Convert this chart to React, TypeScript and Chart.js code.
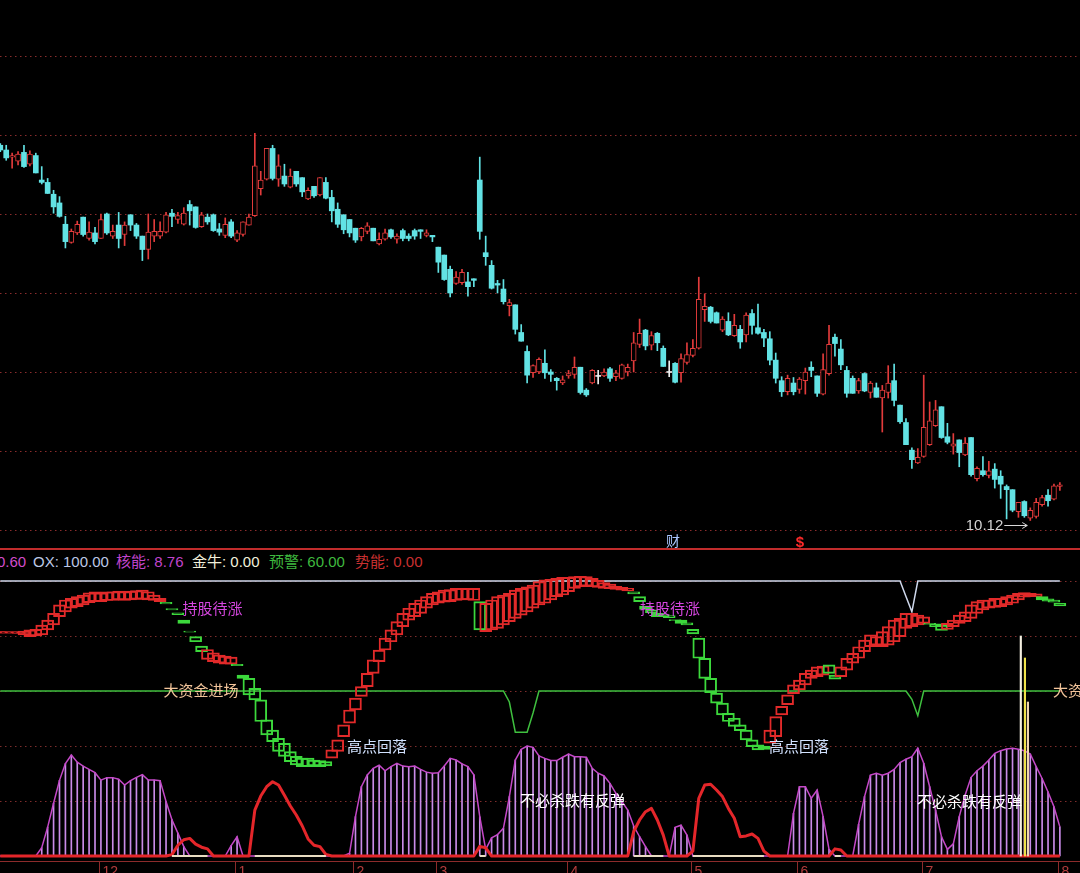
import React, { useEffect, useRef } from "react";
import { Chart, registerables } from "chart.js";
Chart.register(...registerables);

// ---------- price panel (daily candles) ----------
const openP = [
  14.87,14.81,14.72,14.67,14.78,14.63,14.74,14.43,14.40,14.25,
  14.14,13.87,13.64,13.76,13.96,13.69,13.76,13.69,14.00,13.72,
  13.86,13.74,13.99,13.86,13.72,13.55,13.72,13.72,13.77,14.01,
  13.93,13.87,14.12,14.09,13.84,13.96,13.99,13.81,13.73,13.90,
  13.67,13.74,13.86,13.98,14.32,14.44,14.83,14.44,14.48,14.34,
  14.54,14.46,14.19,14.35,14.24,14.40,14.21,14.06,13.99,13.93,
  13.82,13.71,13.78,13.82,13.62,13.68,13.80,13.68,13.79,13.72,
  13.79,13.80,13.73,13.73,13.58,13.48,13.30,13.12,13.13,13.14,
  13.18,14.43,13.51,13.35,13.12,13.05,12.84,12.85,12.50,12.26,
  11.99,12.00,12.11,12.00,11.92,11.86,11.95,11.97,12.06,11.77,
  11.86,11.95,11.95,12.04,11.94,11.92,12.00,12.14,12.35,12.53,
  12.34,12.49,12.30,12.00,12.11,11.99,12.12,12.21,12.30,12.79,
  12.82,12.75,12.53,12.64,12.46,12.54,12.47,12.74,12.56,12.50,
  12.42,12.15,11.89,11.75,11.86,11.78,11.89,12.06,11.95,11.72,
  11.98,12.44,12.29,12.02,11.92,11.76,11.98,11.74,11.80,11.67,
  11.74,11.89,11.58,11.36,11.01,10.85,10.93,11.08,11.32,11.56,
  11.18,11.06,11.14,10.95,11.17,10.65,10.75,10.69,10.77,10.68,
  10.55,10.51,10.23,10.36,10.15,10.17,10.32,10.44,10.39,10.55,
];
const highP = [
  14.89,14.87,14.77,14.79,14.87,14.80,14.77,14.60,14.45,14.30,
  14.22,13.97,13.81,13.91,13.96,13.90,13.83,14.00,14.01,13.86,
  14.02,13.90,13.99,13.88,13.72,14.00,13.93,13.90,14.02,14.06,
  14.02,14.08,14.17,14.09,14.02,14.00,14.00,13.88,13.95,13.93,
  13.79,13.90,14.00,15.02,14.54,14.83,14.87,14.75,14.63,14.57,
  14.54,14.46,14.33,14.35,14.46,14.46,14.30,14.14,13.99,13.93,
  13.82,13.83,13.89,13.82,13.76,13.81,13.81,13.75,13.81,13.75,
  13.81,13.80,13.80,13.73,13.58,13.48,13.34,13.27,13.30,13.26,
  13.18,14.72,13.72,13.41,13.16,13.17,12.92,12.85,12.60,12.33,
  12.09,12.18,12.28,12.03,11.93,11.95,12.02,12.19,12.06,11.79,
  12.03,12.02,12.04,12.06,12.02,12.10,12.10,12.50,12.67,12.54,
  12.51,12.50,12.33,12.14,12.12,12.23,12.37,12.41,13.20,12.99,
  12.83,12.76,12.70,12.75,12.73,12.59,12.75,12.79,12.86,12.54,
  12.51,12.24,11.94,11.96,11.93,11.93,12.05,12.13,11.95,12.23,
  12.59,12.48,12.41,12.07,11.95,11.92,11.99,11.88,11.86,11.83,
  12.08,12.10,11.58,11.41,11.04,11.03,11.96,11.62,11.64,11.56,
  11.35,11.22,11.14,11.17,11.17,10.80,10.93,10.87,10.84,10.75,
  10.57,10.51,10.35,10.37,10.28,10.40,10.44,10.51,10.58,10.60,
];
const lowP = [
  14.79,14.68,14.58,14.62,14.59,14.61,14.52,14.38,14.26,14.01,
  13.96,13.57,13.63,13.74,13.72,13.67,13.62,13.69,13.74,13.69,
  13.57,13.60,13.79,13.69,13.41,13.43,13.65,13.69,13.76,13.84,
  13.88,13.86,13.86,13.82,13.83,13.87,13.78,13.73,13.70,13.70,
  13.65,13.72,13.86,13.97,14.24,14.43,14.43,14.35,14.35,14.33,
  14.35,14.22,14.18,14.21,14.23,14.19,13.90,13.83,13.75,13.71,
  13.64,13.66,13.75,13.66,13.61,13.67,13.69,13.63,13.66,13.66,
  13.68,13.69,13.71,13.65,13.26,13.16,12.95,13.11,13.11,12.96,
  13.08,13.68,13.35,13.05,13.00,12.86,12.71,12.48,12.39,11.86,
  11.93,11.98,11.92,11.88,11.77,11.84,11.92,11.92,11.72,11.69,
  11.85,11.85,11.94,11.88,11.89,11.91,11.95,12.00,12.31,12.28,
  12.28,12.27,12.07,11.94,11.86,11.87,12.10,12.19,12.29,12.64,
  12.62,12.62,12.51,12.46,12.45,12.30,12.38,12.48,12.48,12.32,
  12.09,11.86,11.69,11.71,11.71,11.73,11.72,11.94,11.69,11.71,
  11.96,12.20,12.03,11.68,11.73,11.73,11.75,11.67,11.68,11.24,
  11.67,11.57,11.35,11.08,10.78,10.84,10.92,11.07,11.31,11.16,
  11.09,10.96,10.80,10.94,10.68,10.62,10.68,10.66,10.53,10.40,
  10.14,10.23,10.16,10.16,10.12,10.15,10.30,10.30,10.38,10.50,
];
const closeP = [
  14.81,14.71,14.74,14.76,14.60,14.76,14.52,14.40,14.26,14.09,
  13.97,13.65,13.78,13.87,13.74,13.77,13.65,13.93,13.76,13.78,
  13.69,13.86,13.86,13.72,13.55,13.77,13.78,13.78,13.99,13.97,
  13.98,14.01,14.04,13.83,13.99,13.90,13.79,13.77,13.87,13.72,
  13.76,13.90,13.96,14.61,14.43,14.83,14.45,14.61,14.38,14.48,
  14.38,14.28,14.30,14.23,14.46,14.20,14.04,13.87,13.80,13.76,
  13.67,13.82,13.85,13.66,13.68,13.76,13.71,13.72,13.69,13.69,
  13.72,13.78,13.76,13.71,13.39,13.17,13.00,13.20,13.26,13.08,
  13.16,13.78,13.46,13.06,13.10,12.89,12.88,12.54,12.39,11.96,
  12.08,12.16,11.99,11.97,11.89,11.90,11.98,12.06,11.74,11.71,
  12.02,11.95,12.00,11.92,11.99,12.09,12.06,12.37,12.49,12.33,
  12.46,12.37,12.07,12.00,11.87,12.17,12.22,12.30,12.92,12.83,
  12.64,12.62,12.67,12.47,12.59,12.38,12.72,12.59,12.49,12.43,
  12.15,11.92,11.75,11.92,11.75,11.91,12.00,12.02,11.73,12.03,
  12.35,12.36,12.09,11.73,11.73,11.89,11.76,11.86,11.68,11.77,
  11.86,11.64,11.37,11.08,10.89,10.92,11.30,11.38,11.52,11.17,
  11.11,11.09,10.98,11.10,10.70,10.78,10.70,10.75,10.64,10.58,
  10.51,10.25,10.35,10.18,10.25,10.35,10.41,10.37,10.56,10.57,
];
const priceGrid = [10, 11, 12, 13, 14, 15, 16];
const lowMark = { idx: 174, price: 10.12, text: "10.12" };
const priceNotes = [
  { text: "财", idx: 113.64, value: 9.86, color: "#a9c6ff", font: '14px "Noto Sans CJK SC"', align: "center" },
  { text: "$", idx: 135.1, value: 9.84, color: "#ff2a2a", font: 'bold 15px "Liberation Sans"', align: "center" },
];

// ---------- indicator panel ----------
const boxOpen = [
  81.0,81.0,81.0,80.9,80.4,79.8,80.0,80.4,82.2,84.0,
  87.0,88.8,90.1,90.7,91.3,92.1,92.5,92.5,92.9,92.9,
  93.1,92.9,93.1,93.3,93.3,93.1,92.9,92.5,92.2,90.0,
  88.4,85.8,81.8,79.8,76.3,71.5,70.7,70.1,69.8,69.8,
  69.7,65.8,64.6,61.0,56.8,49.5,45.8,42.8,41.0,38.0,
  36.2,35.6,35.6,34.9,34.7,34.3,35.6,38.0,43.4,48.3,
  53.1,58.0,61.6,66.4,70.7,74.9,77.9,80.4,83.4,85.8,
  87.0,88.2,90.1,91.3,91.9,92.3,92.5,92.9,93.1,93.1,
  92.9,92.5,81.6,82.2,82.8,84.0,85.2,86.4,87.6,88.8,
  90.1,91.3,91.9,93.1,94.3,94.9,96.1,97.3,97.9,98.1,
  97.9,97.7,97.3,97.2,96.9,96.7,96.4,96.1,94.3,90.9,
  89.5,88.2,87.8,87.4,86.0,85.8,84.8,82.4,79.2,71.9,
  64.6,59.2,55.6,51.9,50.1,47.7,45.8,42.2,40.4,40.0,
  41.0,43.4,51.3,55.0,59.0,60.4,62.2,64.6,65.2,65.8,
  69.5,65.8,65.2,67.6,70.1,71.9,74.3,76.1,76.7,76.1,
  76.7,77.9,79.8,82.8,83.4,84.0,84.6,84.6,84.4,84.0,
  82.4,83.4,84.6,85.2,86.4,88.2,89.5,90.1,90.4,90.7,
  91.3,91.9,93.1,94.1,94.3,94.3,94.3,93.5,93.1,91.9,
];
const boxClose = [
  81.6,81.6,81.5,81.6,81.8,82.2,82.4,84.0,85.8,88.2,
  91.3,93.1,93.7,94.3,94.9,95.7,96.1,95.7,96.1,96.1,
  96.3,96.1,96.3,96.5,96.7,96.1,94.9,93.7,91.7,89.5,
  87.8,84.6,81.4,77.9,74.3,75.1,73.9,73.1,72.7,72.3,
  69.2,64.6,58.6,56.8,48.9,44.0,41.6,38.0,36.2,34.3,
  33.1,32.5,32.5,32.8,32.5,32.8,38.6,42.2,47.7,53.1,
  57.4,61.6,66.4,71.3,74.9,79.2,82.2,85.2,88.2,90.1,
  91.9,93.1,94.3,95.5,96.1,96.7,96.9,97.3,97.3,97.3,
  97.3,82.2,91.9,93.1,94.3,94.9,95.5,96.7,97.3,97.9,
  98.5,99.8,100.4,100.6,101.0,101.3,101.3,101.6,101.8,101.6,
  101.0,100.2,99.4,98.9,98.1,97.7,97.3,95.3,92.5,89.7,
  88.5,87.0,87.0,86.7,85.6,84.6,84.0,80.8,71.9,64.6,
  59.4,55.6,51.3,48.9,47.1,45.6,42.2,39.8,38.6,38.8,
  45.8,50.7,54.4,58.6,62.2,64.0,66.4,67.6,68.8,69.1,
  66.4,64.3,68.8,71.9,73.7,76.1,78.5,80.4,79.8,81.6,
  83.4,85.8,86.4,88.2,88.2,87.6,87.0,84.2,83.4,82.0,
  84.6,85.8,87.6,88.8,91.3,92.5,93.1,93.1,93.7,93.7,
  94.3,94.9,95.5,95.8,95.5,95.3,93.1,92.7,92.3,90.9,
];
const coreHist = [
  0,0,0,0,0,0,0,3,10.5,19.2,
  27.5,33.6,36.7,34.1,32.7,31.5,30.3,27.6,28.5,28.5,
  27.9,25.8,27.4,28.6,29.6,27.6,27.6,27.4,19.8,13.2,
  8.3,3.4,0,0,0,0,0,0,0,3.8,
  7.0,0,0,0,0,0,0,0,0,0,
  0,0,0,0,0,0,0,0,0,1,
  14.3,25.2,29.5,31.9,33.0,31.0,32.5,33.7,32.7,32.5,
  32.7,31.5,30.5,30.1,30.3,32.7,35.5,34.9,33.5,32.5,
  29.5,14.3,2.4,6.6,7.8,10.1,21.6,34.9,38.8,40.0,
  39.5,36.4,35.5,34.7,34.7,35.9,37.1,36.1,36.1,35.9,
  31.9,30.1,29.1,26.4,22.8,19.8,16.7,10.9,7.0,3.4,
  0,0,0,0,10.4,11.2,7.6,0,0,0,
  0,0,0,0,0,0,0,0,0,0,
  0,0,0,0,15.5,25.2,25.2,21.0,24.0,14.3,
  2.4,0,0,0,0,11.5,21.6,29.4,30.1,29.4,
  30.1,31.5,34.0,35.2,36.1,39.2,33.7,25.2,16.7,7.0,
  2.4,4.4,14.3,22.2,28.6,31.0,32.7,34.9,37.3,38.3,
  38.9,39.2,38.8,38.3,37.1,32.5,28.2,23.3,17.9,10.6,
];
const momentum = [
  0,0,0,0,0,0,0,0,0,0,
  0,0,0,0,0,0,0,0,0,0,
  0,0,0,0,0,0,0,0,0,0.5,
  3.9,5.9,6.4,4.3,3.2,2.6,0,0,0,0,
  0,0,0,16.7,21.8,25.2,27.0,25.8,22.1,18.2,
  14.9,11.0,6.2,3.9,3.4,0.6,0,0,0,0,
  0,0,0,0,0,0,0,0,0,0,
  0,0,0,0,0,0,0,0,0,0,
  0,3.5,3.0,0,0,0,0,0,0,0,
  0,0,0,0,0,0,0,0,0,0,
  0,0,0,0,0,0,0,8.9,13.1,16.1,
  17.3,13.1,7.6,0,0,0,0,1.8,21.0,25.8,
  26.1,24.0,21.6,17.3,13.7,7.0,7.3,8.0,6.4,1.8,
  0,0,0,0,0,0,0,0,0,0,
  0,2.6,2.2,0,0,0,0,0,0,0,
  0,0,0,0,0,0,0,0,0,0,
  0,0,0,0,0,0,0,0,0,0,
  0,0,0,0,0,0,0,0,0,0,
];
const oxLine = [
  100,100,100,100,100,100,100,100,100,100,
  100,100,100,100,100,100,100,100,100,100,
  100,100,100,100,100,100,100,100,100,100,
  100,100,100,100,100,100,100,100,100,100,
  100,100,100,100,100,100,100,100,100,100,
  100,100,100,100,100,100,100,100,100,100,
  100,100,100,100,100,100,100,100,100,100,
  100,100,100,100,100,100,100,100,100,100,
  100,100,100,100,100,100,100,100,100,100,
  100,100,100,100,100,100,100,100,100,100,
  100,100,100,100,100,100,100,100,100,100,
  100,100,100,100,100,100,100,100,100,100,
  100,100,100,100,100,100,100,100,100,100,
  100,100,100,100,100,100,100,100,100,100,
  100,100,100,100,100,100,100,100,100,100,
  100,100,100,94.4,88.8,100,100,100,100,100,
  100,100,100,100,100,100,100,100,100,100,
  100,100,100,100,100,100,100,100,100,100,
];
const warnLine = [
  60,60,60,60,60,60,60,60,60,60,
  60,60,60,60,60,60,60,60,60,60,
  60,60,60,60,60,60,60,60,60,60,
  60,60,60,60,60,60,60,60,60,60,
  60,60,60,60,60,60,60,60,60,60,
  60,60,60,60,60,60,60,60,60,60,
  60,60,60,60,60,60,60,60,60,60,
  60,60,60,60,60,60,60,60,60,60,
  60,60,60,60,60,60,56,45,45,45,
  52,60,60,60,60,60,60,60,60,60,
  60,60,60,60,60,60,60,60,60,60,
  60,60,60,60,60,60,60,60,60,60,
  60,60,60,60,60,60,60,60,60,60,
  60,60,60,60,60,60,60,60,60,60,
  60,60,60,60,60,60,60,60,60,60,
  60,60,60,60,57,51,60,60,60,60,
  60,60,60,60,60,60,60,60,60,60,
  60,60,60,60,60,60,60,60,60,60,
];
const spikeIdx = [172.4, 173.1, 173.6];
const spikeVal = [80, 72, 56];
const spikeColors = ["#f4efe0", "#efe24a", "#f0d6b0"];
const indGrid = [20, 40, 60, 80, 100];
const panelNotes = [
  { text: "持股待涨", idx: 30.78, value: 90.2, color: "#d646e0" },
  { text: "持股待涨", idx: 108.07, value: 90.2, color: "#d646e0" },
  { text: "大资金进场", idx: 27.59, value: 60.1, color: "#f2c49a" },
  { text: "大资金进场", idx: 177.84, value: 60.1, color: "#f2c49a" },
  { text: "高点回落", idx: 58.57, value: 40.0, color: "#d2e2ff" },
  { text: "高点回落", idx: 129.86, value: 40.0, color: "#d2e2ff" },
  { text: "不必杀跌有反弹", idx: 87.8, value: 20.4, color: "#ffffff" },
  { text: "不必杀跌有反弹", idx: 154.86, value: 20.0, color: "#ffffff" },
];
const monthLabels = ["12", "1", "2", "3", "4", "5", "6", "7", "8"];
const monthStartIdx = [17, 40, 60, 74, 96, 117, 135, 156, 179];
const header = [
  { text: "0.60", left: -3, color: "#d24ccb" },
  { text: "OX: 100.00", left: 33, color: "#bcc8e6" },
  { text: "核能: 8.76", left: 116, color: "#c044cc" },
  { text: "金牛: 0.00", left: 192, color: "#f2f0dc" },
  { text: "预警: 60.00", left: 269, color: "#3fba3f" },
  { text: "势能: 0.00", left: 355, color: "#c83030" },
];

// ---------- layout ----------
const W = 1080;
const X_MIN = -0.05;
const X_MAX = 182.4;
const RED = "#e23b3b";
const CYAN = "#62e2e4";
const DOJI = "#f0f0f0";
const BOX_RED = "#e22a2a";
const BOX_GREEN = "#3cd83c";
const CJK = '"Noto Sans CJK SC", "Liberation Sans", sans-serif';

const dotGrid = {
  id: "dotGrid",
  beforeDatasetsDraw(chart: any, _a: any, opts: any) {
    const { ctx, scales } = chart;
    ctx.save();
    ctx.strokeStyle = opts.color;
    ctx.lineWidth = 1;
    ctx.setLineDash([1.5, 3.5]);
    for (const v of opts.values) {
      const y = Math.round(scales.y.getPixelForValue(v)) + 0.5;
      ctx.beginPath();
      ctx.moveTo(0, y);
      ctx.lineTo(chart.width, y);
      ctx.stroke();
    }
    ctx.restore();
  },
};

const notes = {
  id: "notes",
  afterDatasetsDraw(chart: any, _a: any, opts: any) {
    const { ctx, scales } = chart;
    ctx.save();
    for (const n of opts.items || []) {
      ctx.font = n.font || `15px ${CJK}`;
      ctx.fillStyle = n.color;
      ctx.textAlign = n.align || "left";
      ctx.textBaseline = "middle";
      ctx.fillText(n.text, scales.x.getPixelForValue(n.idx), scales.y.getPixelForValue(n.value));
    }
    const lm = opts.low;
    if (lm) {
      const tip = scales.x.getPixelForValue(lm.idx) - 3;
      const y = Math.round(scales.y.getPixelForValue(lm.price)) + 5.5;
      ctx.strokeStyle = "#d8d8d8";
      ctx.lineWidth = 1;
      ctx.beginPath();
      ctx.moveTo(tip - 23, y);
      ctx.lineTo(tip, y);
      ctx.moveTo(tip - 5, y - 3);
      ctx.lineTo(tip, y);
      ctx.lineTo(tip - 5, y + 3);
      ctx.stroke();
      ctx.font = '15px "Liberation Sans"';
      ctx.fillStyle = "#d4d4d4";
      ctx.textAlign = "right";
      ctx.textBaseline = "middle";
      ctx.fillText(lm.text, tip - 24, y);
    }
    ctx.restore();
  },
};

const monthAxis = {
  id: "monthAxis",
  afterDraw(chart: any) {
    const { ctx, scales, chartArea } = chart;
    const yA = Math.round(chartArea.bottom + 3) + 0.5;
    ctx.save();
    ctx.strokeStyle = "#8c2b2b";
    ctx.lineWidth = 1;
    ctx.beginPath();
    ctx.moveTo(0, yA);
    ctx.lineTo(chart.width, yA);
    ctx.stroke();
    ctx.font = '14px "Liberation Sans"';
    ctx.fillStyle = "#b23c3c";
    ctx.textAlign = "left";
    ctx.textBaseline = "top";
    monthStartIdx.forEach((idx, k) => {
      const x = Math.round(scales.x.getPixelForValue(idx) - 2) + 0.5;
      ctx.beginPath();
      ctx.moveTo(x, yA);
      ctx.lineTo(x, chart.height);
      ctx.stroke();
      ctx.fillText(monthLabels[k], x + 3, yA + 4);
    });
    ctx.restore();
  },
};

const xScale = { type: "linear", min: X_MIN, max: X_MAX, display: false, offset: false };

export default function App() {
  const topRef = useRef<HTMLCanvasElement>(null);
  const botRef = useRef<HTMLCanvasElement>(null);

  useEffect(() => {
    document.body.style.margin = "0";
    document.body.style.background = "#000";
    const idx = openP.map((_, i) => i);
    const cColor = idx.map((i) => (closeP[i] > openP[i] ? RED : closeP[i] < openP[i] ? CYAN : DOJI));

    const top = new Chart(topRef.current as HTMLCanvasElement, {
      type: "bar",
      data: {
        datasets: [
          {
            label: "body",
            order: 1,
            grouped: false,
            barThickness: 5,
            borderSkipped: false,
            data: idx.map((i) => ({
              x: i,
              y: openP[i] === closeP[i] ? [openP[i] - 0.006, openP[i] + 0.006] : [openP[i], closeP[i]],
            })),
            backgroundColor: idx.map((i) => (cColor[i] === RED ? "#000000" : cColor[i])),
            borderColor: cColor,
            borderWidth: idx.map((i) => (cColor[i] === RED ? 1 : 0)),
          } as any,
          {
            label: "wick",
            order: 2,
            grouped: false,
            barThickness: 1,
            borderSkipped: false,
            data: idx.map((i) => ({ x: i, y: [lowP[i], highP[i]] })),
            backgroundColor: cColor,
            borderWidth: 0,
          } as any,
        ],
      },
      options: {
        responsive: false,
        animation: false,
        events: [],
        layout: { padding: 0 },
        scales: {
          x: xScale as any,
          y: { min: 9.759, max: 16.709, display: false },
        },
        plugins: {
          legend: { display: false },
          tooltip: { enabled: false },
          dotGrid: { values: priceGrid, color: "#8a2c2c" },
          notes: { items: priceNotes, low: lowMark },
        } as any,
      },
      plugins: [dotGrid, notes],
    });

    const boxColor = idx.map((i) => (boxClose[i] > boxOpen[i] ? BOX_RED : BOX_GREEN));
    const bot = new Chart(botRef.current as HTMLCanvasElement, {
      type: "bar",
      data: {
        datasets: [
          {
            label: "spike",
            order: 1,
            grouped: false,
            barThickness: 1.5,
            data: spikeIdx.map((x, k) => ({ x, y: spikeVal[k] })),
            backgroundColor: spikeColors,
            borderWidth: 0,
          } as any,
          {
            type: "line",
            label: "flat",
            order: 2,
            data: idx.map((i) => ({ x: i, y: momentum[i] > 0 ? 0 : null })),
            borderColor: "#e9dcc2",
            borderWidth: 2,
            pointRadius: 0,
            spanGaps: false,
          } as any,
          {
            type: "line",
            label: "势能",
            order: 3,
            data: idx.map((i) => ({ x: i, y: momentum[i] })),
            borderColor: "#e4262a",
            borderWidth: 3,
            pointRadius: 0,
            borderJoinStyle: "round",
          } as any,
          {
            label: "box",
            order: 4,
            grouped: false,
            barThickness: 12,
            borderSkipped: false,
            data: idx.map((i) => ({ x: i, y: [boxOpen[i], boxClose[i]] })),
            backgroundColor: "rgba(0,0,0,0)",
            borderColor: boxColor,
            borderWidth: 1.3,
          } as any,
          {
            type: "line",
            label: "预警",
            order: 5,
            data: idx.map((i) => ({ x: i, y: warnLine[i] })),
            borderColor: "#3fc03f",
            borderWidth: 1.5,
            pointRadius: 0,
          } as any,
          {
            type: "line",
            label: "OX",
            order: 6,
            data: idx.map((i) => ({ x: i, y: oxLine[i] })),
            borderColor: "#cfd8ec",
            borderWidth: 1.5,
            pointRadius: 0,
          } as any,
          {
            type: "line",
            label: "核能线",
            order: 7,
            data: idx.map((i) => ({ x: i, y: coreHist[i] })),
            borderColor: "#c548c8",
            borderWidth: 1.5,
            pointRadius: 0,
          } as any,
          {
            label: "核能",
            order: 8,
            grouped: false,
            barThickness: 1,
            data: idx.map((i) => ({ x: i, y: coreHist[i] })),
            backgroundColor: "#c98be8",
            borderWidth: 0,
          } as any,
        ],
      },
      options: {
        responsive: false,
        animation: false,
        events: [],
        layout: { padding: { left: 0, right: 0, top: 0, bottom: 15 } },
        scales: {
          x: xScale as any,
          y: { min: -0.727, max: 101.818, display: false },
        },
        plugins: {
          legend: { display: false },
          tooltip: { enabled: false },
          dotGrid: { values: indGrid, color: "#7e2c2c" },
          notes: { items: panelNotes },
        } as any,
      },
      plugins: [dotGrid, notes, monthAxis],
    });

    return () => {
      top.destroy();
      bot.destroy();
    };
  }, []);

  return (
    <div style={{ position: "relative", width: W, height: 873, background: "#000", overflow: "hidden" }}>
      <canvas ref={topRef} width={W} height={549} style={{ position: "absolute", left: 0, top: 0, display: "block" }} />
      <div style={{ position: "absolute", left: 0, top: 548, width: W, height: 2, background: "#c22c2c" }} />
      {header.map((h, k) => (
        <span
          key={k}
          style={{
            position: "absolute",
            left: h.left,
            top: 552,
            height: 20,
            lineHeight: "20px",
            fontSize: 15,
            fontFamily: '"Liberation Sans", "Noto Sans CJK SC", sans-serif',
            color: h.color,
            whiteSpace: "nowrap",
          }}
        >
          {h.text}
        </span>
      ))}
      <canvas ref={botRef} width={W} height={297} style={{ position: "absolute", left: 0, top: 576, display: "block" }} />
    </div>
  );
}
